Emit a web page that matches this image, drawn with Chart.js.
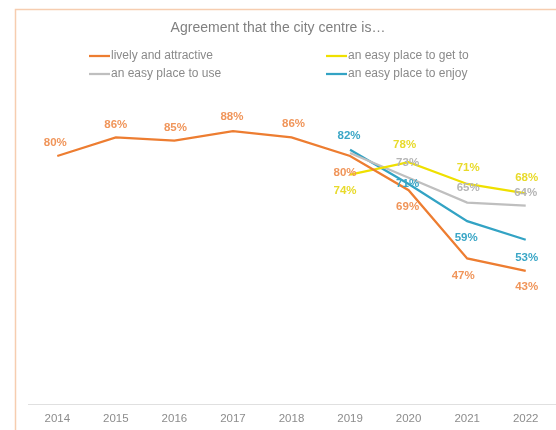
<!DOCTYPE html>
<html>
<head>
<meta charset="utf-8">
<script src="https://cdn.jsdelivr.net/npm/chart.js@4/dist/chart.umd.min.js"></script>
<style>
  html, body { margin: 0; padding: 0; background: #ffffff; }
  #wrap { width: 556px; height: 430px; position: relative; }
</style>
</head>
<body>
<div id="wrap"><canvas id="chart" width="556" height="430"></canvas></div>
<script>
// Survey years
const years = ['2014', '2015', '2016', '2017', '2018', '2019', '2020', '2021', '2022'];

// Share agreeing (%) with each statement
const livelyAttractive = [80, 86, 85, 88, 86, 80, 69, 47, 43];
const easyToGetTo      = [null, null, null, null, null, 74, 78, 71, 68];
const easyToUse        = [null, null, null, null, null, 81, 73, 65, 64];
const easyToEnjoy      = [null, null, null, null, null, 82, 71, 59, 53];

const seriesNames = ['lively and attractive', 'an easy place to get to', 'an easy place to use', 'an easy place to enjoy'];
const titleText = 'Agreement that the city centre is\u2026';

const COLORS = {
  orange: '#ED7D31',
  yellow: '#EFE000',
  grey:   '#BFBFBF',
  blue:   '#33A3C4'
};
const LABEL_COLORS = ['#F0955A', '#E8DA2A', '#B5B5B5', '#3AA6C6'];

// Label offsets (dx, dy) from each point; null = no label drawn
const labelOffsets = [
  [[-2,-13],[0,-13],[1,-13],[-1,-14],[2,-14],[-5,17],[-1,17],[-4,17],[1,16]],
  [null,null,null,null,null,[-5,16],[-4,-17],[1,-16],[1,-15]],
  [null,null,null,null,null,null,[-1,-15],[1,-15],[0,-13]],
  [null,null,null,null,null,[-1,-14],[-1,0],[-1,17],[1,18]]
];

const FONT = '"Liberation Sans", Arial, sans-serif';

// Outer frame, title and two-column legend
const framePlugin = {
  id: 'frame',
  beforeDraw(chart) {
    const ctx = chart.ctx;
    ctx.save();
    ctx.fillStyle = '#ffffff';
    ctx.fillRect(0, 0, chart.width, chart.height);
    ctx.strokeStyle = '#F6CDB0';
    ctx.lineWidth = 1.5;
    ctx.strokeRect(15.5, 9.5, 700, 600);
    ctx.restore();
  },
  afterDraw(chart) {
    const ctx = chart.ctx;
    ctx.save();
    ctx.fillStyle = '#808080';
    ctx.font = '14px ' + FONT;
    ctx.textAlign = 'center';
    ctx.textBaseline = 'middle';
    ctx.fillText(titleText, 278, 28);

    const slots = [[89, 56], [326, 56], [89, 74], [326, 74]];
    const order = [0, 1, 2, 3];
    ctx.font = '12px ' + FONT;
    ctx.textAlign = 'left';
    order.forEach((di, i) => {
      const ds = chart.data.datasets[di];
      const [x, y] = slots[i];
      ctx.strokeStyle = ds.borderColor;
      ctx.lineWidth = 2.25;
      ctx.beginPath();
      ctx.moveTo(x, y);
      ctx.lineTo(x + 21, y);
      ctx.stroke();
      ctx.fillStyle = '#8a8a8a';
      ctx.fillText(ds.label, x + 22, y);
    });
    ctx.restore();
  }
};

// Percentage labels next to each point
const valueLabels = {
  id: 'valueLabels',
  afterDatasetsDraw(chart) {
    const ctx = chart.ctx;
    ctx.save();
    ctx.font = 'bold 11.5px ' + FONT;
    ctx.textAlign = 'center';
    ctx.textBaseline = 'middle';
    chart.data.datasets.forEach((ds, di) => {
      const meta = chart.getDatasetMeta(di);
      meta.data.forEach((pt, i) => {
        const v = ds.data[i];
        const off = labelOffsets[di][i];
        if (v == null || !off) return;
        ctx.fillStyle = LABEL_COLORS[di];
        ctx.fillText(v + '%', pt.x + off[0], pt.y + off[1]);
      });
    });
    ctx.restore();
  }
};

const mk = (label, data, color) => ({
  label, data,
  borderColor: color,
  backgroundColor: color,
  borderWidth: 2.25,
  pointRadius: 0,
  pointHoverRadius: 0,
  tension: 0,
  fill: false
});

new Chart(document.getElementById('chart'), {
  type: 'line',
  data: {
    labels: years,
    datasets: [
      mk(seriesNames[0], livelyAttractive, COLORS.orange),
      mk(seriesNames[1], easyToGetTo, COLORS.yellow),
      mk(seriesNames[2], easyToUse, COLORS.grey),
      mk(seriesNames[3], easyToEnjoy, COLORS.blue)
    ]
  },
  options: {
    responsive: false,
    animation: false,
    devicePixelRatio: 1,
    layout: { padding: { top: 94, left: 28, right: 1, bottom: -4 } },
    plugins: {
      legend: { display: false },
      title: { display: false },
      tooltip: { enabled: false }
    },
    scales: {
      x: {
        offset: true,
        grid: { display: false, drawTicks: false },
        border: { display: true, color: '#E0E0E0', width: 1 },
        ticks: { color: '#8c8c8c', font: { family: FONT, size: 11.5 }, padding: 8, maxRotation: 0 }
      },
      y: {
        display: false,
        min: 0,
        max: 100
      }
    }
  },
  plugins: [framePlugin, valueLabels]
});
</script>
</body>
</html>
